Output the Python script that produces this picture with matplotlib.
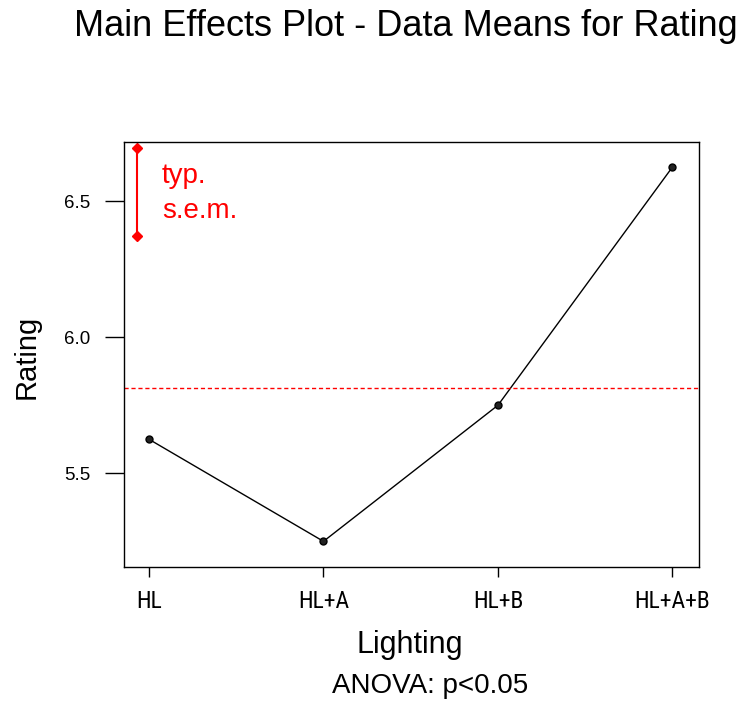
import matplotlib
matplotlib.use("Agg")
import matplotlib.pyplot as plt
import numpy as np

plt.rcParams['font.family'] = ['Liberation Sans', 'DejaVu Sans']

categories = ["HL", "HL+A", "HL+B", "HL+A+B"]
means = [5.625, 5.25, 5.75, 6.625]
grand_mean = 5.8125
sem_low = 6.372
sem_high = 6.694
yticks = [5.5, 6.0, 6.5]

fig = plt.figure(figsize=(7.47, 7.02), dpi=100)
ax = fig.add_axes([0.166, 0.1916, 0.770, 0.6068])

x = np.arange(len(categories))
ax.plot(x, means, color='black', lw=1, marker='o', ms=5, mfc='#222222', mec='black')
ax.axhline(grand_mean, color='red', lw=1, ls=(0, (3, 2)))

xs = -0.0687
ax.plot([xs, xs], [sem_low, sem_high], color='red', lw=1.5, marker='D', ms=5.5)
ax.text(0.0745, 6.565, "typ.", color='red', fontsize=20, va='baseline', ha='left')
ax.text(0.0745, 6.436, "s.e.m.", color='red', fontsize=20, va='baseline', ha='left')

ax.set_xlim(-0.143, 3.153)
ax.set_ylim(5.154, 6.7185)
ax.set_xticks(x)
ax.set_xticklabels(categories, fontsize=17, family=['Roboto Condensed', 'Liberation Sans'])
ax.set_yticks(yticks)
ax.set_yticklabels([f"{v:.1f}" for v in yticks], fontsize=13.5)
ax.tick_params(axis='x', direction='out', length=7, width=1, colors='black', pad=9)
ax.tick_params(axis='y', direction='out', length=14, width=1, colors='black', pad=10)
for s in ax.spines.values():
    s.set_linewidth(1)

fig.text(0.5435, 0.9487, "Main Effects Plot - Data Means for Rating", ha='center', va='baseline', fontsize=26)
fig.text(0.035, 0.492, "Rating", rotation=90, ha='center', va='center', fontsize=21)
fig.text(0.549, 0.0698, "Lighting", ha='center', va='baseline', fontsize=22)
fig.text(0.5756, 0.0123, "ANOVA: p<0.05", ha='center', va='baseline', fontsize=20)

fig.savefig("out.png", dpi=100)
